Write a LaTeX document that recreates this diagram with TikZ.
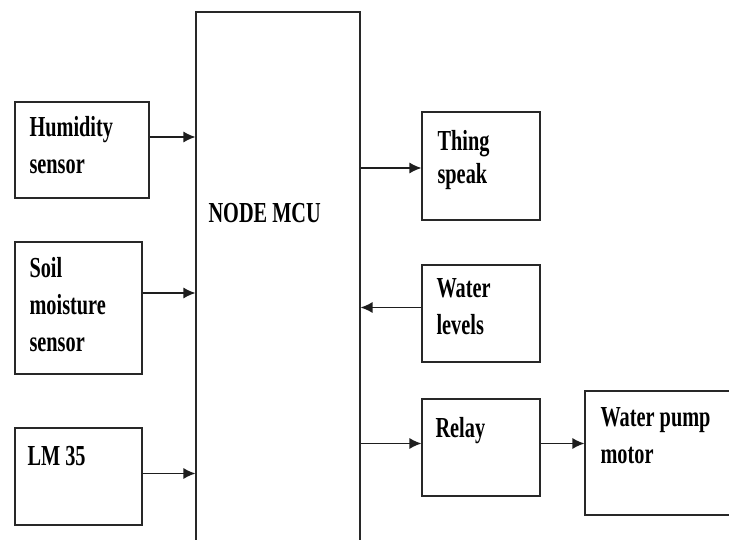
\documentclass[tikz,border=0pt]{standalone}
\usepackage{fontspec}
\setmainfont{Liberation Serif}
\newfontfamily\blocklabelfont[FakeStretch=0.7]{Liberation Serif}
\usetikzlibrary{arrows.meta}

\tikzset{every picture/.style={line width=1.1pt}}
\tikzset{
blockbox/.style={draw, inner sep=0pt, color={rgb, 255:red, 40; green, 40; blue, 40 }},
blocklabel/.style={anchor=base west, inner sep=0pt, align=left, font=\blocklabelfont\bfseries\fontsize{29}{37}\selectfont},
flowarrow/.style={-{Latex[length=12pt,width=11pt]}, line width=1.3pt, color={rgb, 255:red, 30; green, 30; blue, 30 }}}

\begin{document}
\begin{tikzpicture}[x=1pt,y=1pt,yscale=-1,xscale=1]
\useasboundingbox (0,0) rectangle (729,540);

%Blocks
\node [blockbox, minimum width=134pt, minimum height=96pt] (hum) at (82,150) {};
\node [blockbox, minimum width=127pt, minimum height=132pt] (soil) at (78.5,308) {};
\node [blockbox, minimum width=127pt, minimum height=97pt] (lm) at (78.5,476.5) {};
\node [blockbox, minimum width=164pt, minimum height=540pt] (mcu) at (278,282) {};
\node [blockbox, minimum width=118pt, minimum height=108pt] (thing) at (481,166) {};
\node [blockbox, minimum width=118pt, minimum height=97pt] (water) at (481,313.5) {};
\node [blockbox, minimum width=118pt, minimum height=97pt] (relay) at (481,447.5) {};
\node [blockbox, minimum width=152pt, minimum height=124pt] (pump) at (661,453) {};

% Text Node (base = baseline of last line)
\node [blocklabel] (humtxt) at (29,174) {Humidity\\sensor};
\node [blocklabel] (soiltxt) at (29,352) {Soil\\moisture\\sensor};
\node [blocklabel] (lmtxt) at (27,465) {LM 35};
\node [blocklabel] (mcutxt) at (208,223) {NODE MCU};
\node [blocklabel, font=\blocklabelfont\bfseries\fontsize{29}{33}\selectfont] (thingtxt) at (437,184) {Thing\\speak};
\node [blocklabel] (watertxt) at (436,335) {Water\\levels};
\node [blocklabel] (relaytxt) at (435,437) {Relay};
\node [blocklabel] (pumptxt) at (600,463) {Water pump\\motor};

%Arrows (yscale=-1, so a negative yshift moves up)
\coordinate (h1) at ([yshift=-13pt]hum.east);
\coordinate (s1) at ([yshift=-15pt]soil.east);
\coordinate (l1) at ([yshift=-3pt]lm.east);
\coordinate (t1) at ([yshift=2pt]thing.west);
\coordinate (w1) at ([yshift=-6pt]water.west);
\coordinate (r1) at ([yshift=-4pt]relay.west);
\coordinate (r2) at ([yshift=-4pt]relay.east);
\draw [flowarrow] (h1) -- (h1 -| mcu.west);
\draw [flowarrow] (s1) -- (s1 -| mcu.west);
\draw [flowarrow] (l1) -- (l1 -| mcu.west);
\draw [flowarrow] (t1 -| mcu.east) -- (t1);
\draw [flowarrow] (w1) -- (w1 -| mcu.east);
\draw [flowarrow] (r1 -| mcu.east) -- (r1);
\draw [flowarrow] (r2) -- (r2 -| pump.west);

\end{tikzpicture}
\end{document}
